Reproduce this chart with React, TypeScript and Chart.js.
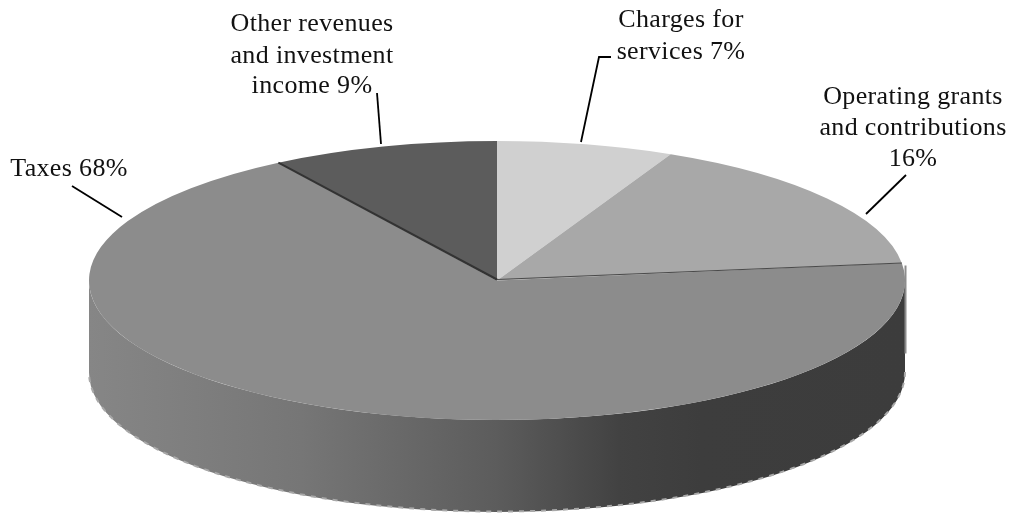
import React, { useEffect, useRef } from "react";
import { Chart, registerables } from "chart.js";

Chart.register(...registerables);

const categories = ["Charges for services", "Operating grants and contributions", "Taxes", "Other revenues and investment income"];
const shares = [7, 16, 68, 9];
const sliceColors = ["#d0d0d0", "#a8a8a8", "#8c8c8c", "#5c5c5c"];
const calloutLines = [
  ["Charges for", "services 7%"],
  ["Operating grants", "and contributions", "16%"],
  ["Taxes 68%"],
  ["Other revenues", "and investment", "income 9%"],
];

// Layout of the projected disc
const CX = 497, CY = 280.5, RX = 408, RY = 139.5, DEPTH = 92;
const FONT = "26px 'Liberation Serif'";
const calloutAnchors = [
  { x: 681, y: [27, 59] },
  { x: 913, y: [104, 135, 166] },
  { x: 69, y: [176] },
  { x: 312, y: [31, 62.5, 93] },
];
const leaders = [
  [[611, 57], [599, 57], [581, 142]],
  [[906, 175], [866, 214]],
  [[72, 186], [122, 217]],
  [[377, 93], [381, 144]],
];

const disc3d = {
  id: "disc3d",
  beforeDatasetsDraw(chart: any) {
    const { ctx } = chart;
    const arc = chart.getDatasetMeta(0).data[0];
    const sx = RX / arc.outerRadius, sy = RY / arc.outerRadius;

    // Side wall
    const g = ctx.createLinearGradient(CX - RX, 0, CX + RX, 0);
    g.addColorStop(0, "#868686");
    g.addColorStop(0.26, "#767676");
    g.addColorStop(0.5, "#5c5c5c");
    g.addColorStop(0.65, "#424242");
    g.addColorStop(0.75, "#3d3d3d");
    g.addColorStop(1, "#3c3c3c");
    ctx.save();
    ctx.beginPath();
    ctx.ellipse(CX, CY, RX, RY, 0, 0, Math.PI);
    ctx.lineTo(CX - RX, CY + DEPTH);
    ctx.ellipse(CX, CY + DEPTH, RX, RY, 0, Math.PI, 0, true);
    ctx.closePath();
    ctx.fillStyle = g;
    ctx.fill();
    // Speckled lower rim
    ctx.beginPath();
    ctx.ellipse(CX, CY + DEPTH - 0.5, RX, RY, 0, 0, Math.PI);
    ctx.setLineDash([5, 6]);
    ctx.lineWidth = 2;
    ctx.strokeStyle = "#a8a8a8";
    ctx.stroke();
    ctx.setLineDash([]);
    // Thin grey sliver on the right side
    ctx.fillStyle = "#8c8c8c";
    ctx.fillRect(CX + RX - 0.5, CY - 15, 2, 88);
    ctx.restore();

    // Squash the library's circular pie to the disc's top ellipse
    ctx.save();
    ctx.translate(CX, CY);
    ctx.scale(sx, sy);
    ctx.translate(-arc.x, -arc.y);
  },
  afterDatasetsDraw(chart: any) {
    const { ctx } = chart;
    ctx.restore();
    const meta = chart.getDatasetMeta(0);

    // Dark seams along the Taxes slice
    const seam = (angle: number, width: number, color: string) => {
      ctx.beginPath();
      ctx.moveTo(CX, CY - 1);
      ctx.lineTo(CX + RX * Math.cos(angle), CY + RY * Math.sin(angle));
      ctx.lineWidth = width;
      ctx.strokeStyle = color;
      ctx.stroke();
    };
    seam(meta.data[2].startAngle, 1.2, "#4a4a4a");
    seam(meta.data[2].endAngle, 2, "#333333");

    // Callouts
    ctx.save();
    ctx.fillStyle = "#111111";
    ctx.font = FONT;
    ctx.letterSpacing = "0.35px";
    ctx.textAlign = "center";
    ctx.textBaseline = "alphabetic";
    calloutLines.forEach((lines, i) => {
      lines.forEach((line, j) => {
        ctx.fillText(line, calloutAnchors[i].x, calloutAnchors[i].y[j]);
      });
    });
    ctx.strokeStyle = "#000000";
    ctx.lineWidth = 1.8;
    leaders.forEach((pts) => {
      ctx.beginPath();
      pts.forEach(([x, y], k) => (k ? ctx.lineTo(x, y) : ctx.moveTo(x, y)));
      ctx.stroke();
    });
    ctx.restore();
  },
};

export default function App() {
  const ref = useRef<HTMLCanvasElement>(null);
  useEffect(() => {
    document.body.style.margin = "0";
    document.body.style.background = "#ffffff";
    const chart = new Chart(ref.current!, {
      type: "pie",
      data: {
        labels: categories,
        datasets: [{ data: shares, backgroundColor: sliceColors, borderWidth: 0, clip: false } as any],
      },
      options: {
        responsive: false,
        animation: false,
        events: [],
        layout: { padding: 0 },
        plugins: { legend: { display: false }, tooltip: { enabled: false } },
      },
      plugins: [disc3d],
    });
    return () => chart.destroy();
  }, []);
  return <canvas ref={ref} width={1012} height={514} style={{ display: "block" }} />;
}
